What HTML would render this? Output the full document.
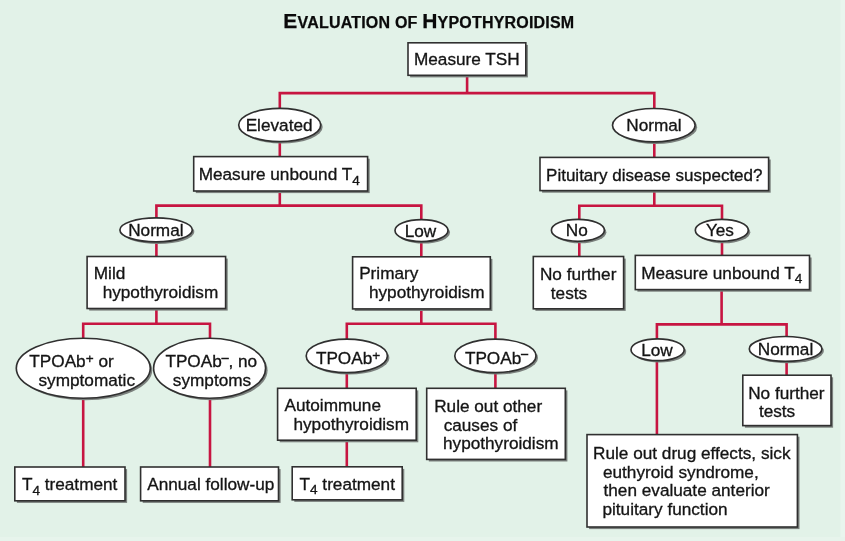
<!DOCTYPE html>
<html><head><meta charset="utf-8"><title>Evaluation of Hypothyroidism</title>
<style>
html,body{margin:0;padding:0;background:#e2f2e8;}
body{width:845px;height:541px;overflow:hidden;}
svg{display:block;will-change:transform;font-family:"Liberation Sans",sans-serif;font-size:17.2px;}
svg text{fill:#141414;stroke:#141414;stroke-width:0.32px;}
</style></head><body>
<svg width="845" height="541" viewBox="0 0 845 541">
<rect width="845" height="541" fill="#e2f2e8"/>
<rect x="840.5" y="0" width="4.5" height="541" fill="#e9f6ee"/>
<rect x="0" y="537" width="845" height="4" fill="#e7f4ec"/>
<text x="283.3" y="28.1" font-weight="bold" font-size="21" letter-spacing="0.2" style="fill:#0a0a0a;stroke:#0a0a0a;stroke-width:0.25px"><tspan>E</tspan><tspan font-size="16">VALUATION OF </tspan><tspan>H</tspan><tspan font-size="16">YPOTHYROIDISM</tspan></text>
<g>
<polyline points="467.1,75 467.1,93.1" fill="none" stroke="#c71541" stroke-width="2.6" stroke-linejoin="miter"/>
<polyline points="279.8,110 279.8,93.1 654.3,93.1 654.3,110" fill="none" stroke="#c71541" stroke-width="2.6" stroke-linejoin="miter"/>
<polyline points="279.8,140 279.8,157" fill="none" stroke="#c71541" stroke-width="2.6" stroke-linejoin="miter"/>
<polyline points="654.3,141 654.3,157" fill="none" stroke="#c71541" stroke-width="2.6" stroke-linejoin="miter"/>
<polyline points="279.8,191 279.8,205.6" fill="none" stroke="#c71541" stroke-width="2.6" stroke-linejoin="miter"/>
<polyline points="156.4,220 156.4,205.6 421.3,205.6 421.3,220" fill="none" stroke="#c71541" stroke-width="2.6" stroke-linejoin="miter"/>
<polyline points="156.4,241 156.4,257" fill="none" stroke="#c71541" stroke-width="2.6" stroke-linejoin="miter"/>
<polyline points="421.3,241 421.3,257" fill="none" stroke="#c71541" stroke-width="2.6" stroke-linejoin="miter"/>
<polyline points="654.3,190 654.3,205.7" fill="none" stroke="#c71541" stroke-width="2.6" stroke-linejoin="miter"/>
<polyline points="579.3,220 579.3,205.7 722,205.7 722,220" fill="none" stroke="#c71541" stroke-width="2.6" stroke-linejoin="miter"/>
<polyline points="579.3,241 579.3,257" fill="none" stroke="#c71541" stroke-width="2.6" stroke-linejoin="miter"/>
<polyline points="722,241 722,257" fill="none" stroke="#c71541" stroke-width="2.6" stroke-linejoin="miter"/>
<polyline points="156.4,308 156.4,323.8" fill="none" stroke="#c71541" stroke-width="2.6" stroke-linejoin="miter"/>
<polyline points="83.2,341 83.2,323.8 210,323.8 210,341" fill="none" stroke="#c71541" stroke-width="2.6" stroke-linejoin="miter"/>
<polyline points="83.2,398 83.2,467" fill="none" stroke="#c71541" stroke-width="2.6" stroke-linejoin="miter"/>
<polyline points="210,398 210,467" fill="none" stroke="#c71541" stroke-width="2.6" stroke-linejoin="miter"/>
<polyline points="421.3,308 421.3,323.8" fill="none" stroke="#c71541" stroke-width="2.6" stroke-linejoin="miter"/>
<polyline points="346.8,342 346.8,323.8 495.4,323.8 495.4,342" fill="none" stroke="#c71541" stroke-width="2.6" stroke-linejoin="miter"/>
<polyline points="346.8,373 346.8,389" fill="none" stroke="#c71541" stroke-width="2.6" stroke-linejoin="miter"/>
<polyline points="495.4,373 495.4,389" fill="none" stroke="#c71541" stroke-width="2.6" stroke-linejoin="miter"/>
<polyline points="346.8,440 346.8,467" fill="none" stroke="#c71541" stroke-width="2.6" stroke-linejoin="miter"/>
<polyline points="721.6,289 721.6,324.4" fill="none" stroke="#c71541" stroke-width="2.6" stroke-linejoin="miter"/>
<polyline points="656.9,341 656.9,324.4 786.6,324.4 786.6,341" fill="none" stroke="#c71541" stroke-width="2.6" stroke-linejoin="miter"/>
<polyline points="656.9,360 656.9,435" fill="none" stroke="#c71541" stroke-width="2.6" stroke-linejoin="miter"/>
<polyline points="786.6,360 786.6,376" fill="none" stroke="#c71541" stroke-width="2.6" stroke-linejoin="miter"/>
<rect x="410.1" y="44.9" width="117.8" height="32.5" fill="#7b807d"/>
<rect x="408" y="42.8" width="117.8" height="32.5" fill="#fff" stroke="#303030" stroke-width="1.6"/>
<text x="413.96" y="65.20">Measure TSH</text>
<rect x="195.8" y="158.7" width="173.9" height="34.4" fill="#7b807d"/>
<rect x="193.7" y="156.6" width="173.9" height="34.4" fill="#fff" stroke="#303030" stroke-width="1.6"/>
<text x="198.66" y="180.30">Measure unbound T<tspan dy="4.3" font-size="13.6">4</tspan><tspan dy="-4.3" font-size="17.2">&#8203;</tspan></text>
<rect x="542.1" y="159.5" width="228.6" height="33.2" fill="#7b807d"/>
<rect x="540" y="157.4" width="228.6" height="33.2" fill="#fff" stroke="#303030" stroke-width="1.6"/>
<text x="546.07" y="180.60" font-size="17.0">Pituitary disease suspected?</text>
<rect x="89.2" y="258.6" width="138.5" height="52" fill="#7b807d"/>
<rect x="87.1" y="256.5" width="138.5" height="52" fill="#fff" stroke="#303030" stroke-width="1.6"/>
<text x="93.76" y="279.00">Mild</text>
<text x="102.63" y="297.50">hypothyroidism</text>
<rect x="354.7" y="258.9" width="137.7" height="52.1" fill="#7b807d"/>
<rect x="352.6" y="256.8" width="137.7" height="52.1" fill="#fff" stroke="#303030" stroke-width="1.6"/>
<text x="359.16" y="279.20">Primary</text>
<text x="368.93" y="297.60">hypothyroidism</text>
<rect x="535.4" y="258.6" width="90.3" height="52.3" fill="#7b807d"/>
<rect x="533.3" y="256.5" width="90.3" height="52.3" fill="#fff" stroke="#303030" stroke-width="1.6"/>
<text x="539.96" y="280.40">No further</text>
<text x="550.80" y="298.60">tests</text>
<rect x="637.4" y="257.5" width="174.2" height="34.2" fill="#7b807d"/>
<rect x="635.3" y="255.4" width="174.2" height="34.2" fill="#fff" stroke="#303030" stroke-width="1.6"/>
<text x="641.16" y="278.60">Measure unbound T<tspan dy="4.3" font-size="13.6">4</tspan><tspan dy="-4.3" font-size="17.2">&#8203;</tspan></text>
<rect x="279.7" y="390.4" width="138.6" height="51.9" fill="#7b807d"/>
<rect x="277.6" y="388.3" width="138.6" height="51.9" fill="#fff" stroke="#303030" stroke-width="1.6"/>
<text x="284.50" y="410.80">Autoimmune</text>
<text x="293.43" y="429.50">hypothyroidism</text>
<rect x="428.8" y="390.4" width="138.6" height="71.1" fill="#7b807d"/>
<rect x="426.7" y="388.3" width="138.6" height="71.1" fill="#fff" stroke="#303030" stroke-width="1.6"/>
<text x="434.16" y="411.60">Rule out other</text>
<text x="443.67" y="430.60">causes of</text>
<text x="443.03" y="448.90">hypothyroidism</text>
<rect x="16.9" y="469.1" width="110.2" height="33.8" fill="#7b807d"/>
<rect x="14.8" y="467" width="110.2" height="33.8" fill="#fff" stroke="#303030" stroke-width="1.6"/>
<text x="21.92" y="490.40">T<tspan dy="4.3" font-size="13.6">4</tspan><tspan dy="-4.3" font-size="17.2">&#8203;</tspan> treatment</text>
<rect x="142.7" y="469.1" width="137.9" height="33.8" fill="#7b807d"/>
<rect x="140.6" y="467" width="137.9" height="33.8" fill="#fff" stroke="#303030" stroke-width="1.6"/>
<text x="147.20" y="490.40">Annual follow-up</text>
<rect x="294.3" y="468.9" width="110" height="33" fill="#7b807d"/>
<rect x="292.2" y="466.8" width="110" height="33" fill="#fff" stroke="#303030" stroke-width="1.6"/>
<text x="299.52" y="489.80">T<tspan dy="4.3" font-size="13.6">4</tspan><tspan dy="-4.3" font-size="17.2">&#8203;</tspan> treatment</text>
<rect x="744.9" y="377.3" width="88.2" height="50.4" fill="#7b807d"/>
<rect x="742.8" y="375.2" width="88.2" height="50.4" fill="#fff" stroke="#303030" stroke-width="1.6"/>
<text x="748.16" y="399.20">No further</text>
<text x="758.90" y="417.40">tests</text>
<rect x="589.1" y="436.7" width="210.4" height="92.4" fill="#7b807d"/>
<rect x="587" y="434.6" width="210.4" height="92.4" fill="#fff" stroke="#303030" stroke-width="1.6"/>
<text x="593.06" y="458.80">Rule out drug effects, sick</text>
<text x="602.97" y="477.50">euthyroid syndrome,</text>
<text x="603.50" y="496.20">then evaluate anterior</text>
<text x="602.43" y="514.90">pituitary function</text>
<ellipse cx="281.7" cy="127" rx="41" ry="16.6" fill="#7b807d"/>
<ellipse cx="279.7" cy="125" rx="41" ry="16.6" fill="#fff" stroke="#303030" stroke-width="1.65"/>
<text x="245.66" y="130.80">Elevated</text>
<ellipse cx="655.8" cy="127.2" rx="41.3" ry="16.7" fill="#7b807d"/>
<ellipse cx="653.8" cy="125.2" rx="41.3" ry="16.7" fill="#fff" stroke="#303030" stroke-width="1.65"/>
<text x="626.26" y="131.20">Normal</text>
<ellipse cx="158.1" cy="231.9" rx="36.2" ry="12" fill="#7b807d"/>
<ellipse cx="156.1" cy="229.9" rx="36.2" ry="12" fill="#fff" stroke="#303030" stroke-width="1.65"/>
<text x="128.16" y="236.20">Normal</text>
<ellipse cx="423.5" cy="232.6" rx="26.5" ry="11" fill="#7b807d"/>
<ellipse cx="421.5" cy="230.6" rx="26.5" ry="11" fill="#fff" stroke="#303030" stroke-width="1.65"/>
<text x="404.66" y="236.80">Low</text>
<ellipse cx="579.9" cy="232.3" rx="26.5" ry="11" fill="#7b807d"/>
<ellipse cx="577.9" cy="230.3" rx="26.5" ry="11" fill="#fff" stroke="#303030" stroke-width="1.65"/>
<text x="565.76" y="236.10">No</text>
<ellipse cx="723.8" cy="232.3" rx="26.5" ry="11" fill="#7b807d"/>
<ellipse cx="721.8" cy="230.3" rx="26.5" ry="11" fill="#fff" stroke="#303030" stroke-width="1.65"/>
<text x="705.92" y="236.10">Yes</text>
<ellipse cx="85.3" cy="370.2" rx="67" ry="30" fill="#7b807d"/>
<ellipse cx="83.3" cy="368.2" rx="67" ry="30" fill="#fff" stroke="#303030" stroke-width="1.65"/>
<text x="29.32" y="367.00">TPOAb<tspan dy="-3.9" font-size="13.6">+</tspan><tspan dy="3.9" font-size="17.2">&#8203;</tspan> or</text>
<text x="38.52" y="385.90">symptomatic</text>
<ellipse cx="211.6" cy="370.2" rx="56" ry="30" fill="#7b807d"/>
<ellipse cx="209.6" cy="368.2" rx="56" ry="30" fill="#fff" stroke="#303030" stroke-width="1.65"/>
<text x="165.42" y="367.00">TPOAb<tspan dy="-5.4" font-size="12" style="stroke-width:0.75px">–</tspan><tspan dy="5.4" font-size="17.2">&#8203;</tspan>, no</text>
<text x="172.82" y="385.90">symptoms</text>
<ellipse cx="348.8" cy="357.9" rx="40.6" ry="16.7" fill="#7b807d"/>
<ellipse cx="346.8" cy="355.9" rx="40.6" ry="16.7" fill="#fff" stroke="#303030" stroke-width="1.65"/>
<text x="315.92" y="363.50">TPOAb<tspan dy="-3.9" font-size="13.6">+</tspan><tspan dy="3.9" font-size="17.2">&#8203;</tspan></text>
<ellipse cx="497.4" cy="357.9" rx="40.6" ry="16.7" fill="#7b807d"/>
<ellipse cx="495.4" cy="355.9" rx="40.6" ry="16.7" fill="#fff" stroke="#303030" stroke-width="1.65"/>
<text x="464.92" y="363.50">TPOAb<tspan dy="-5.4" font-size="12" style="stroke-width:0.75px">–</tspan><tspan dy="5.4" font-size="17.2">&#8203;</tspan></text>
<ellipse cx="659.6" cy="351.7" rx="26.6" ry="10.9" fill="#7b807d"/>
<ellipse cx="657.6" cy="349.7" rx="26.6" ry="10.9" fill="#fff" stroke="#303030" stroke-width="1.65"/>
<text x="641.16" y="355.50">Low</text>
<ellipse cx="787.6" cy="350.9" rx="36.3" ry="12.4" fill="#7b807d"/>
<ellipse cx="785.6" cy="348.9" rx="36.3" ry="12.4" fill="#fff" stroke="#303030" stroke-width="1.65"/>
<text x="757.86" y="355.40">Normal</text>
</g>
</svg>
</body></html>
